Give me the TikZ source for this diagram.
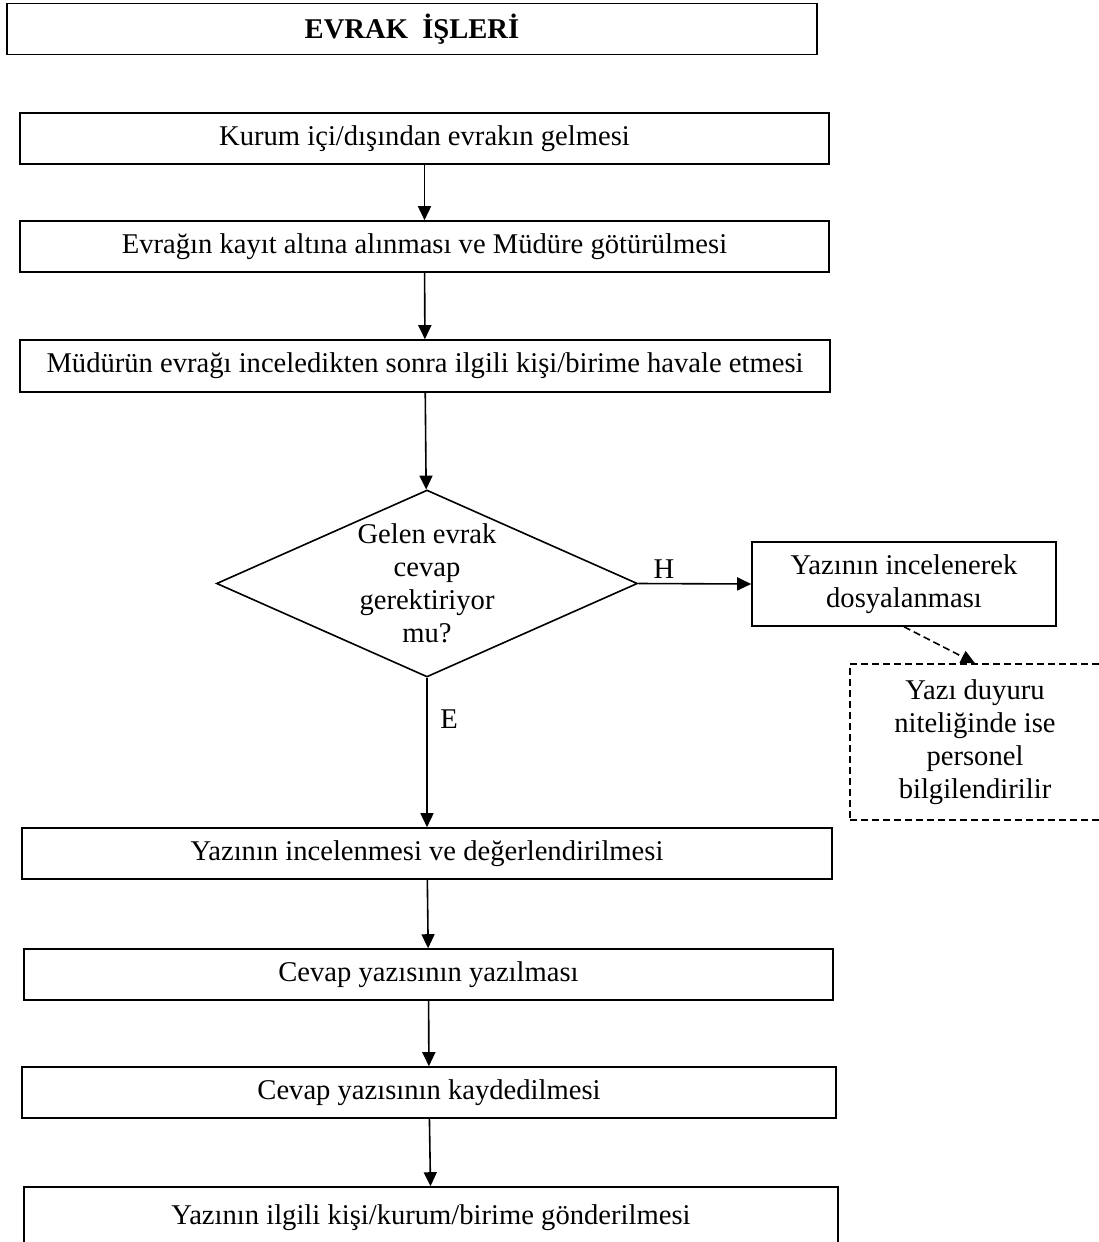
\documentclass[tikz,border=0pt]{standalone}
\usepackage{fontspec}
\setmainfont{Liberation Serif}
\usetikzlibrary{arrows.meta,shapes.geometric}
\begin{document}
\begin{tikzpicture}[x=1pt,y=-1pt,
  every node/.style={font=\fontsize{28.6}{33}\selectfont},
  stepbox/.style={draw,line width=1.6pt,rectangle,inner sep=0pt,align=center},
  arr/.style={line width=1.6pt,-{Triangle[length=14pt,width=13pt]}},
  dasharr/.style={arr,dash pattern=on 7pt off 4pt},
  lbl/.style={inner sep=0pt}]
\useasboundingbox (0,0) rectangle (1099,1242);
\clip (0,0) rectangle (1099,1242);

% title
\node[stepbox,minimum width=810,minimum height=51] (title) at (412,29)
  {\bfseries EVRAK\ \ İŞLERİ};

% main column
\node[stepbox,minimum width=809,minimum height=51] (b1) at (424.5,138.5)
  {Kurum içi/dışından evrakın gelmesi};
\node[stepbox,minimum width=809,minimum height=51] (b2) at (424.5,246.5)
  {Evrağın kayıt altına alınması ve Müdüre götürülmesi};
\node[stepbox,minimum width=810,minimum height=52] (b3) at (425,366)
  {Müdürün evrağı inceledikten sonra ilgili kişi/birime havale etmesi};

% decision
\node[diamond,draw,line width=1.6pt,inner sep=0pt,minimum width=421,minimum height=187] (dec) at (427,583.5) {};
\node[lbl,align=center] (dectext) at (dec.center)
  {Gelen evrak\\cevap\\gerektiriyor\\mu?};

% "no" branch
\node[stepbox,minimum width=304,minimum height=84] (bh) at (904,584)
  {Yazının incelenerek\\dosyalanması};
\node[stepbox,dash pattern=on 7pt off 4pt,minimum width=250,minimum height=156] (note) at (975,742)
  {Yazı duyuru\\niteliğinde ise\\personel\\bilgilendirilir};

% "yes" branch
\node[stepbox,minimum width=810,minimum height=51] (b4) at (427,853.5)
  {Yazının incelenmesi ve değerlendirilmesi};
\node[stepbox,minimum width=809,minimum height=51] (b5) at (428.5,974.5)
  {Cevap yazısının yazılması};
\node[stepbox,minimum width=814,minimum height=51] (b6) at (429,1092.5)
  {Cevap yazısının kaydedilmesi};
\node[stepbox,minimum width=814,minimum height=62] (b7) at (431,1218)
  {Yazının ilgili kişi/kurum/birime gönderilmesi};

% branch labels
\node[lbl] (lh) at (664,569) {H};
\node[lbl] (le) at (449,719) {E};

% connectors
\draw[arr] (b1) -- (b2);
\draw[arr] (b2) -- (b3);
\draw[arr] (b3) -- (dec);
\draw[arr] (dec.east) -- (bh.west);
\draw[dasharr] (bh.south) -- (note.north);
\draw[arr] (dec.south) -- (b4.north);
\draw[arr] (b4) -- (b5);
\draw[arr] (b5) -- (b6);
\draw[arr] (b6) -- (b7);
\end{tikzpicture}
\end{document}
